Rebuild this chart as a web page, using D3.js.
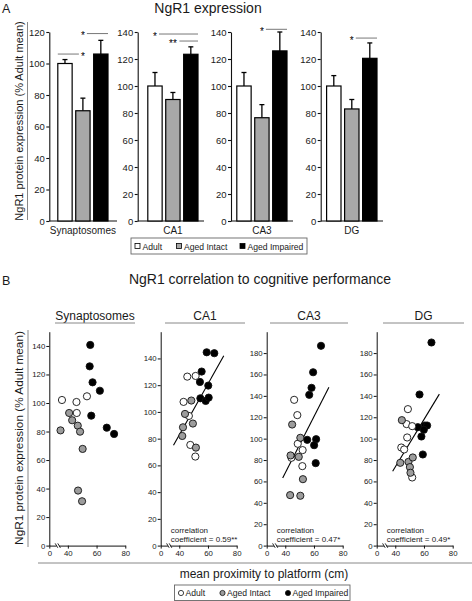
<!DOCTYPE html>
<html><head><meta charset="utf-8">
<script src="https://cdn.jsdelivr.net/npm/d3@7"></script>
<style>
body{margin:0;background:#fff}
svg{display:block}
text{font-family:"Liberation Sans",Arial,Helvetica,sans-serif;fill:#1a1a1a}
</style>
</head><body>
<svg id="c" width="472" height="601"></svg>
<script>
// ---------- DATA ----------
const groups = ["Adult", "Aged Intact", "Aged Impaired"];
const regions = ["Synaptosomes", "CA1", "CA3", "DG"];

// Panel A: means and SEM (% adult mean)
const meanAdult        = [100, 100, 100, 100];
const meanAgedIntact   = [70, 90, 76.5, 83];
const meanAgedImpaired = [106, 123.5, 126, 120.5];
const semAdult         = [2.5, 10, 10, 7.7];
const semAgedIntact    = [8, 5.2, 9.7, 7];
const semAgedImpaired  = [8.7, 5.5, 14, 11.4];
const barYMax          = [120, 140, 140, 140];

// significance annotations
const sigRegion    = [0, 0, 1, 1, 2, 3];
const sigLabel     = ["*", "*", "*", "**", "*", "*"];
const sigLevel     = [119, 106, 138.5, 133.3, 142, 135.5];
const sigStarGroup = [1, 1, 0, 1, 1, 1];
const sigSide      = ["right", "left", "right", "right", "right", "right"];

// Panel B: [proximity (cm), NgR1 (% adult mean), group index]
const synPoints = [
  [55.6,140.7,2],[55.2,125.7,2],[57.2,114.5,2],[62.3,108.6,2],[56.3,91.1,2],[67.1,82.7,2],[72.2,78.3,2],
  [35.9,102.1,0],[46,100.7,0],[46.2,93,0],[53.3,104.7,0],
  [34.9,80.8,1],[40.9,93,1],[43,87.9,1],[46.9,84.1,1],[48.5,79.9,1],[50.3,67.8,1],[47.1,38.6,1],[49.9,31.1,1]
];
const ca1Points = [
  [59.1,144.6,2],[64.4,143.9,2],[55.6,130.2,2],[54.4,122.4,2],[60.2,119.7,2],[54.7,110.2,2],[58.4,108.2,2],[60.5,110.7,2],
  [45.6,126.4,0],[51.4,126.9,0],[43,107.5,0],[46.7,97,0],[47.7,75.3,0],[51.2,66.6,0],
  [48.4,108.5,1],[44,98.5,1],[42.6,88.5,1],[42.1,82,1],[49.5,91.3,1],[51.6,73.3,1]
];
const ca3Points = [
  [64.9,186.8,2],[59.4,162.1,2],[58.3,147.5,2],[56.7,141,2],[55.3,98.9,2],[61.5,99.5,2],[60.1,93.9,2],[61.2,77.1,2],
  [46.2,136.3,0],[48.4,122,0],[48.7,95.2,0],[52.1,89.3,0],[51.9,74.3,0],[44.3,82.1,0],
  [44.8,113.2,1],[50.5,100.8,1],[43.7,84.3,1],[49.4,83,1],[52.3,62.1,1],[43.4,47.2,1],[50.5,46.6,1]
];
const dgPoints = [
  [65.2,189.9,2],[56.9,141.3,2],[55.7,110.7,2],[60.6,112.3,2],[62.2,112.3,2],[59.9,108.3,2],[58.2,102,2],[59.2,85.2,2],
  [48.8,127.6,0],[47.9,113.6,0],[51.8,111.7,0],[48.3,101.1,0],[44.2,91.7,0],[46.2,89.9,0],[51.8,63.7,0],
  [44.6,117.3,1],[43.5,77.4,1],[49.2,78.3,1],[52.2,82.4,1],[50.2,73.4,1],[50.6,68.1,1]
];
const scatterYMax = [150, 160, 200, 200];
const scatterXTicks = [0, 40, 60, 80];
// regression line endpoints [[x1,y1],[x2,y2]] (null = none)
const fitLines = [null, [[36,75],[71,142]], [[38.2,63.1],[70.4,148.1]], [[38.2,69.6],[70.7,141.6]]];
const coefText = ["", "0.59**", "0.47*", "0.49*"];

// ---------- DRAW ----------
const svg = d3.select("#c");
const barFill = ["#ffffff", "#a8a8a8", "#000000"];
const dotFill = ["#ffffff", "#9c9c9c", "#000000"];

// Headings
svg.append("text").attr("x", 2).attr("y", 13).attr("font-size", 12.5).text("A");
svg.append("text").attr("x", 208).attr("y", 13).attr("font-size", 14).attr("text-anchor", "middle").text("NgR1 expression");
svg.append("text").attr("x", 2).attr("y", 285).attr("font-size", 12.5).text("B");
svg.append("text").attr("x", 260).attr("y", 284).attr("font-size", 14).attr("text-anchor", "middle").text("NgR1 correlation to cognitive performance");

// ----- Panel A -----
const yLabelText = "NgR1 protein expression (% Adult mean)";
svg.append("text").attr("transform", "translate(23,121) rotate(-90)").attr("font-size", 11)
  .attr("text-anchor", "middle").text(yLabelText);
svg.append("line").attr("x1", 27.5).attr("x2", 27.5).attr("y1", 22).attr("y2", 220).attr("stroke", "#888").attr("stroke-width", 1);

const barAxisX  = [49.3, 137.7, 231, 320.7];
const bandStart = [57.8, 147.8, 236.8, 326.6];
const bandEnd   = [108, 198, 287, 377];
const axisEnd   = [117, 204, 293, 383];
const barBottom = 221, barTop = 32;

const means = [meanAdult, meanAgedIntact, meanAgedImpaired];
const sems = [semAdult, semAgedIntact, semAgedImpaired];
const bandScales = [], barYScales = [];

regions.forEach((reg, i) => {
  const y = d3.scaleLinear().domain([0, barYMax[i]]).range([barBottom, barTop]);
  const x = d3.scaleBand().domain(groups).range([bandStart[i], bandEnd[i]]).paddingInner(0.2);
  bandScales.push(x); barYScales.push(y);
  const g = svg.append("g");
  const ax = g.append("g").attr("transform", `translate(${barAxisX[i]},0)`)
    .call(d3.axisLeft(y).tickValues(d3.range(0, barYMax[i] + 1, 20)).tickSize(3).tickSizeOuter(0).tickPadding(1.5));
  ax.selectAll("text").attr("font-size", 9.5).attr("font-family", "Liberation Sans, Arial, sans-serif").attr("fill", "#1a1a1a");
  ax.selectAll("line,path").attr("stroke", "#111").attr("stroke-width", 1.1);
  g.append("line").attr("x1", barAxisX[i]).attr("x2", axisEnd[i]).attr("y1", barBottom).attr("y2", barBottom)
    .attr("stroke", "#111").attr("stroke-width", 1.1);
  groups.forEach((gr, k) => {
    const v = means[k][i], s = sems[k][i];
    const cx = x(gr) + x.bandwidth() / 2;
    g.append("line").attr("x1", cx).attr("x2", cx).attr("y1", y(v)).attr("y2", y(v + s)).attr("stroke", "#000").attr("stroke-width", 1.3);
    g.append("line").attr("x1", cx - 2.5).attr("x2", cx + 2.5).attr("y1", y(v + s)).attr("y2", y(v + s)).attr("stroke", "#000").attr("stroke-width", 1.3);
    g.append("rect").attr("x", x(gr)).attr("y", y(v)).attr("width", x.bandwidth()).attr("height", barBottom - y(v))
      .attr("fill", barFill[k]).attr("stroke", "#000").attr("stroke-width", 1.2);
  });
  g.append("text").attr("x", (bandStart[i] + bandEnd[i]) / 2).attr("y", 234).attr("font-size", 10)
    .attr("text-anchor", "middle").text(reg);
});

// significance
sigRegion.forEach((ri, j) => {
  const x = bandScales[ri], y = barYScales[ri];
  const sx = x(groups[sigStarGroup[j]]) + x.bandwidth() / 2;
  const ly = y(sigLevel[j]);
  svg.append("text").attr("x", sx).attr("y", ly + 5.5).attr("font-size", 10).attr("text-anchor", "middle")
    .style("fill", "#000").text(sigLabel[j]);
  const halfW = sigLabel[j].length * 2.5 + 1.5;
  let x1, x2;
  if (sigSide[j] === "right") { x1 = sx + halfW; x2 = x(groups[2]) + x.bandwidth(); }
  else { x1 = x(groups[0]); x2 = sx - halfW; }
  svg.append("line").attr("x1", x1).attr("x2", x2).attr("y1", ly).attr("y2", ly).attr("stroke", "#555").attr("stroke-width", 0.8);
});

// legend A
const legA = svg.append("g");
legA.append("rect").attr("x", 131).attr("y", 238).attr("width", 176).attr("height", 16).attr("fill", "none").attr("stroke", "#666").attr("stroke-width", 0.9);
const legAx = [135, 176.5, 240];
groups.forEach((gr, k) => {
  legA.append("rect").attr("x", legAx[k]).attr("y", 243.5).attr("width", 5).attr("height", 5)
    .attr("fill", barFill[k]).attr("stroke", "#000").attr("stroke-width", 0.8);
  legA.append("text").attr("x", legAx[k] + 7.5).attr("y", 249.5).attr("font-size", 8.6).text(gr);
});

// ----- Panel B -----
svg.append("text").attr("transform", "translate(23,438) rotate(-90)").attr("font-size", 11.8)
  .attr("text-anchor", "middle").text(yLabelText);
svg.append("line").attr("x1", 28).attr("x2", 28).attr("y1", 330).attr("y2", 547).attr("stroke", "#888").attr("stroke-width", 1);
svg.append("text").attr("x", 264).attr("y", 578).attr("font-size", 12).attr("text-anchor", "middle").text("mean proximity to platform (cm)");
svg.append("line").attr("x1", 38).attr("x2", 472).attr("y1", 563).attr("y2", 563).attr("stroke", "#888").attr("stroke-width", 1);

const scX0 = [49.3, 160.7, 266.7, 376.7];
const titleLine = [[55, 135], [165, 245], [270, 348], [383, 464]];
const allPoints = [synPoints, ca1Points, ca3Points, dgPoints];
const scBottom = 545.6, scTop = 331.7;

regions.forEach((reg, i) => {
  const X0 = scX0[i];
  const x = d3.scaleLinear().domain([0, 33, 80]).range([X0, X0 + 8.5, X0 + 76]);
  const y = d3.scaleLinear().domain([0, scatterYMax[i]]).range([scBottom, scTop]);
  const g = svg.append("g");
  // title
  g.append("text").attr("x", (titleLine[i][0] + titleLine[i][1]) / 2).attr("y", 319.5).attr("font-size", 12)
    .attr("text-anchor", "middle").text(reg);
  g.append("line").attr("x1", titleLine[i][0]).attr("x2", titleLine[i][1]).attr("y1", 323).attr("y2", 323)
    .attr("stroke", "#888").attr("stroke-width", 1);
  // axes
  const ay = g.append("g").attr("transform", `translate(${X0},0)`)
    .call(d3.axisLeft(y).tickValues(d3.range(0, scatterYMax[i] - 9, 20)).tickSize(3).tickSizeOuter(0).tickPadding(1));
  const axx = g.append("g").attr("transform", `translate(0,${scBottom})`)
    .call(d3.axisBottom(x).tickValues(scatterXTicks).tickSize(3).tickSizeOuter(0).tickPadding(1.5));
  [ay, axx].forEach(a => {
    a.selectAll("text").attr("font-size", 7.8).attr("font-family", "Liberation Sans, Arial, sans-serif").attr("fill", "#1a1a1a");
    a.selectAll("line,path").attr("stroke", "#111").attr("stroke-width", 1);
  });
  // axis break
  g.append("rect").attr("x", X0 + 7.2).attr("y", scBottom - 2).attr("width", 2.6).attr("height", 4).attr("fill", "#fff");
  [X0 + 7.2, X0 + 9.8].forEach(bx => {
    g.append("line").attr("x1", bx - 1.3).attr("x2", bx + 1.3).attr("y1", scBottom - 2.2).attr("y2", scBottom + 2.2)
      .attr("stroke", "#111").attr("stroke-width", 0.9);
  });
  // fit line
  if (fitLines[i]) {
    const [p1, p2] = fitLines[i];
    g.append("line").attr("x1", x(p1[0])).attr("y1", y(p1[1])).attr("x2", x(p2[0])).attr("y2", y(p2[1]))
      .attr("stroke", "#000").attr("stroke-width", 1.1);
  }
  // dots
  g.selectAll("circle.pt").data(allPoints[i]).enter().append("circle")
    .attr("cx", d => x(d[0])).attr("cy", d => y(d[1])).attr("r", 3.6)
    .attr("fill", d => dotFill[d[2]]).attr("stroke", "#111").attr("stroke-width", 0.9);
  // correlation text
  if (coefText[i]) {
    g.append("text").attr("x", X0 + 10).attr("y", 533).attr("font-size", 8).text("correlation");
    g.append("text").attr("x", X0 + 10).attr("y", 541.8).attr("font-size", 8).text("coefficient = " + coefText[i]);
  }
});

// legend B
const legB = svg.append("g");
legB.append("rect").attr("x", 174.5).attr("y", 585).attr("width", 175.5).attr("height", 15.5).attr("fill", "none").attr("stroke", "#666").attr("stroke-width", 0.9);
const legBx = [181, 222.5, 288];
groups.forEach((gr, k) => {
  legB.append("circle").attr("cx", legBx[k]).attr("cy", 593).attr("r", 2.6)
    .attr("fill", dotFill[k]).attr("stroke", "#111").attr("stroke-width", 0.8);
  legB.append("text").attr("x", legBx[k] + 4.5).attr("y", 596).attr("font-size", 8.6).text(gr);
});
</script>
</body></html>
